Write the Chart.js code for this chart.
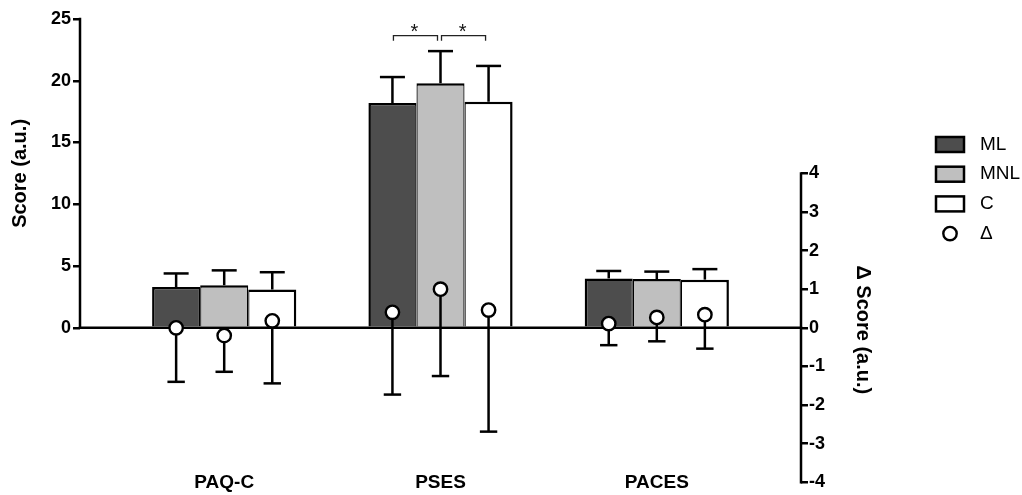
<!DOCTYPE html>
<html>
<head>
<meta charset="utf-8">
<script src="https://cdn.jsdelivr.net/npm/chart.js@4.4.0/dist/chart.umd.min.js"></script>
<style>
  html, body { margin: 0; padding: 0; background: #fff; }
</style>
</head>
<body>
<canvas id="myChart" width="1022" height="495"></canvas>
<script>
// categories and groups
var categories = ['PAQ-C', 'PSES', 'PACES'];
var groups = ['ML', 'MNL', 'C'];

// score (left axis), mean and SD
var scoreML  = [3.3, 18.2, 4.0];
var scoreMNL = [3.45, 19.8, 3.95];
var scoreC   = [3.1, 18.3, 3.9];
var sdML  = [1.1, 2.1, 0.6];
var sdMNL = [1.2, 2.6, 0.6];
var sdC   = [1.4, 2.9, 0.85];

// delta score (right axis), mean and SD
var deltaML  = [0.0, 0.4, 0.11];
var deltaMNL = [-0.2, 1.0, 0.27];
var deltaC   = [0.18, 0.46, 0.34];
var deltaSdML  = [1.4, 2.13, 0.56];
var deltaSdMNL = [0.94, 2.25, 0.62];
var deltaSdC   = [1.62, 3.15, 0.88];

// tick labels
var scoreTicks = [0, 5, 10, 15, 20, 25];
var deltaTicks = [-4, -3, -2, -1, 0, 1, 2, 3, 4];

// significance brackets (PSES)
var sigCategory = 1;
var sigPairs = [[0, 1], [1, 2]];
var sigLevel = 23.65;

var FONT = 'Liberation Sans, Arial, sans-serif';
var fills = ['#4d4d4d', '#bfbfbf', '#ffffff'];
var catPct = 2 / 3;

var means = [scoreML, scoreMNL, scoreC];
var sds = [sdML, sdMNL, sdC];
var deltas = [deltaML, deltaMNL, deltaC];
var deltaSds = [deltaSdML, deltaSdMNL, deltaSdC];

function barBorder(k) {
  return { top: 2.5, bottom: 0, left: k === 0 ? 2.5 : 1.25, right: k === 2 ? 2.5 : 1.25 };
}

var datasets = [];
groups.forEach(function (g, k) {
  datasets.push({
    type: 'bar',
    label: g,
    yAxisID: 'y',
    order: 2,
    data: means[k].map(function (v, i) { return { x: i, y: v }; }),
    backgroundColor: fills[k],
    borderColor: '#000',
    borderWidth: barBorder(k),
    borderSkipped: false,
    categoryPercentage: catPct,
    barPercentage: 1
  });
});
groups.forEach(function (g, k) {
  var off = (k - 1) * catPct / groups.length;
  datasets.push({
    type: 'line',
    label: '\u0394',
    yAxisID: 'y2',
    order: 1,
    showLine: false,
    data: deltas[k].map(function (v, i) { return { x: i + off, y: v }; }),
    pointRadius: 6.7,
    pointBackgroundColor: '#fff',
    pointBorderColor: '#000',
    pointBorderWidth: 2.4
  });
});

function seg(ctx, x1, y1, x2, y2) {
  ctx.beginPath();
  ctx.moveTo(x1, y1);
  ctx.lineTo(x2, y2);
  ctx.stroke();
}

function drawOverlay(chart) {
  var ctx = chart.ctx, y = chart.scales.y, y2 = chart.scales.y2, area = chart.chartArea;
  ctx.save();
  ctx.strokeStyle = '#000';
  ctx.lineWidth = 2.5;
  ctx.lineCap = 'square';
  var y0 = y.getPixelForValue(0);
  seg(ctx, area.left, y0, area.right, y0);
  seg(ctx, area.left, y.getPixelForValue(scoreTicks[0]), area.left, y.getPixelForValue(scoreTicks[scoreTicks.length - 1]));
  seg(ctx, area.right, y2.getPixelForValue(deltaTicks[0]), area.right, y2.getPixelForValue(deltaTicks[deltaTicks.length - 1]));
  ctx.lineCap = 'butt';

  // bar error bars (upper)
  groups.forEach(function (g, k) {
    var meta = chart.getDatasetMeta(k);
    meta.data.forEach(function (bar, j) {
      var top = y.getPixelForValue(means[k][j]);
      var cap = y.getPixelForValue(means[k][j] + sds[k][j]);
      seg(ctx, bar.x, top, bar.x, cap);
      seg(ctx, bar.x - 12.5, cap, bar.x + 12.5, cap);
    });
  });

  // delta error bars (lower)
  groups.forEach(function (g, k) {
    var meta = chart.getDatasetMeta(groups.length + k);
    meta.data.forEach(function (pt, j) {
      var cap = y2.getPixelForValue(deltas[k][j] - deltaSds[k][j]);
      seg(ctx, pt.x, pt.y, pt.x, cap);
      seg(ctx, pt.x - 8.7, cap, pt.x + 8.7, cap);
    });
  });

  // significance brackets
  ctx.strokeStyle = '#222';
  ctx.lineWidth = 1.3;
  ctx.fillStyle = '#111';
  ctx.font = '20px ' + FONT;
  ctx.textAlign = 'center';
  ctx.textBaseline = 'alphabetic';
  var yl = y.getPixelForValue(sigLevel);
  sigPairs.forEach(function (p) {
    var xa = chart.getDatasetMeta(p[0]).data[sigCategory].x + 1;
    var xb = chart.getDatasetMeta(p[1]).data[sigCategory].x - 3;
    ctx.beginPath();
    ctx.moveTo(xa, yl + 5);
    ctx.lineTo(xa, yl);
    ctx.lineTo(xb, yl);
    ctx.lineTo(xb, yl + 5);
    ctx.stroke();
    ctx.fillText('*', (xa + xb) / 2 - 1, yl + 2.5);
  });
  ctx.restore();
}

function drawCategoryLabels(chart) {
  var ctx = chart.ctx, x = chart.scales.x;
  ctx.save();
  ctx.fillStyle = '#000';
  ctx.font = 'bold 19px ' + FONT;
  ctx.textAlign = 'center';
  ctx.textBaseline = 'middle';
  categories.forEach(function (c, i) {
    ctx.fillText(c, x.getPixelForValue(i), 483);
  });
  ctx.restore();
}

function drawTitles(chart) {
  var ctx = chart.ctx, y = chart.scales.y, y2 = chart.scales.y2;
  ctx.save();
  ctx.fillStyle = '#000';
  ctx.font = 'bold 20px ' + FONT;
  ctx.textAlign = 'center';
  ctx.textBaseline = 'middle';
  var m1 = (y.getPixelForValue(scoreTicks[0]) + y.getPixelForValue(scoreTicks[scoreTicks.length - 1])) / 2;
  ctx.translate(20, m1);
  ctx.rotate(-Math.PI / 2);
  ctx.fillText('Score (a.u.)', 0, 0);
  ctx.restore();

  ctx.save();
  ctx.fillStyle = '#000';
  ctx.font = 'bold 20px ' + FONT;
  ctx.textAlign = 'center';
  ctx.textBaseline = 'middle';
  var m2 = (y2.getPixelForValue(deltaTicks[0]) + y2.getPixelForValue(deltaTicks[deltaTicks.length - 1])) / 2;
  ctx.translate(863, m2 + 2);
  ctx.rotate(Math.PI / 2);
  ctx.fillText('\u0394 Score (a.u.)', 0, 0);
  ctx.restore();
}

function drawLegend(chart) {
  var ctx = chart.ctx;
  ctx.save();
  ctx.font = '19px ' + FONT;
  ctx.textAlign = 'left';
  ctx.textBaseline = 'middle';
  ctx.strokeStyle = '#000';
  for (var r = 0; r < 4; r++) {
    var ds = chart.data.datasets[r];
    var cy = 144.5 + r * 29.7;
    if (ds.type === 'bar') {
      ctx.fillStyle = ds.backgroundColor;
      ctx.lineWidth = 2.5;
      ctx.fillRect(936, cy - 7.5, 28, 15);
      ctx.strokeRect(936, cy - 7.5, 28, 15);
    } else {
      ctx.beginPath();
      ctx.arc(950, cy, ds.pointRadius, 0, Math.PI * 2);
      ctx.fillStyle = '#fff';
      ctx.fill();
      ctx.lineWidth = ds.pointBorderWidth;
      ctx.stroke();
    }
    ctx.fillStyle = '#000';
    ctx.fillText(ds.label, 980, cy);
  }
  ctx.restore();
}

var overlayPlugin = {
  id: 'overlay',
  beforeDatasetsDraw: function (chart) { chart.$overlayDone = false; },
  beforeDatasetDraw: function (chart, args) {
    if (args.meta.type !== 'line' || chart.$overlayDone) return;
    chart.$overlayDone = true;
    drawOverlay(chart);
  },
  afterDraw: function (chart) {
    drawCategoryLabels(chart);
    drawTitles(chart);
    drawLegend(chart);
  }
};

var tickFont = { family: FONT, size: 18, weight: 'bold' };

var myChart = new Chart(document.getElementById('myChart'), {
  type: 'bar',
  data: { datasets: datasets },
  options: {
    responsive: false,
    animation: false,
    devicePixelRatio: 1,
    events: [],
    layout: { padding: { top: 19, left: 0, right: 0, bottom: 0 } },
    plugins: { legend: { display: false }, tooltip: { enabled: false } },
    scales: {
      x: {
        type: 'linear',
        offset: false,
        min: -2 / 3,
        max: 8 / 3,
        grid: { display: false, drawTicks: false, offset: false },
        border: { display: false },
        ticks: { display: false },
        afterBuildTicks: function (s) { s.ticks = categories.map(function (c, i) { return { value: i }; }); },
        afterFit: function (s) { s.height = 10; }
      },
      y: {
        position: 'left',
        min: -12.5,
        max: 25,
        grid: { drawOnChartArea: false, tickLength: 7, lineWidth: 2.5, color: '#000' },
        border: { display: false },
        ticks: { padding: 2, color: '#000', font: tickFont },
        afterBuildTicks: function (s) { s.ticks = scoreTicks.map(function (v) { return { value: v }; }); },
        afterFit: function (s) { s.width = 80; }
      },
      y2: {
        position: 'right',
        min: -4,
        max: 8,
        grid: { drawOnChartArea: false, tickLength: 7, lineWidth: 2.5, color: '#000' },
        border: { display: false },
        ticks: { padding: 1, color: '#000', font: tickFont },
        afterBuildTicks: function (s) { s.ticks = deltaTicks.map(function (v) { return { value: v }; }); },
        afterFit: function (s) { s.width = 221; }
      }
    }
  },
  plugins: [overlayPlugin]
});
</script>
</body>
</html>
